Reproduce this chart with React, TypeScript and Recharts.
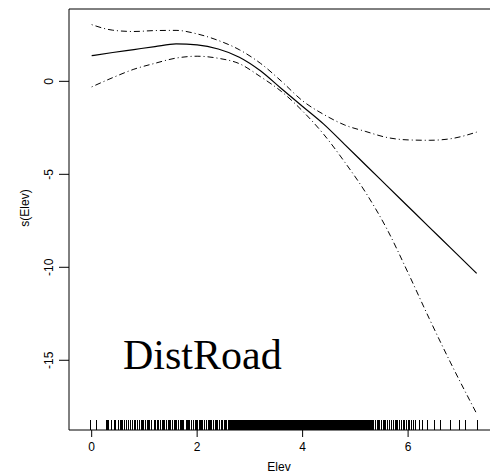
import React from 'react';
import { ComposedChart, Line, Scatter, XAxis, YAxis, ReferenceArea, Label } from 'recharts';

// gam smooth term s(Elev) with 2*se bands
const elev = [0, 0.4, 0.8, 1.2, 1.6, 2.0, 2.4, 2.8, 3.2, 3.6, 4.0, 4.4, 4.8, 5.2, 5.6, 6.0, 6.4, 6.8, 7.3];
const fit = [1.38, 1.55, 1.71, 1.87, 2.01, 1.96, 1.74, 1.3, 0.57, -0.4, -1.35, -2.3, -3.4, -4.51, -5.62, -6.73, -7.84, -8.94, -10.33];
const upper = [3.05, 2.75, 2.68, 2.73, 2.74, 2.55, 2.2, 1.7, 0.97, 0.0, -1.05, -1.78, -2.35, -2.7, -3.02, -3.15, -3.17, -3.09, -2.73];
const lower = [-0.3, 0.2, 0.65, 0.97, 1.25, 1.35, 1.24, 0.95, 0.25, -0.55, -1.6, -2.85, -4.35, -6.0, -7.95, -10.3, -12.75, -15.1, -17.87];

// rug of observed Elev values
const rug = [
  -0.03, 0.08,
  0.27, 0.29, 0.31, 0.36, 0.42, 0.44, 0.45, 0.5, 0.53, 0.55, 0.58, 0.62, 0.66, 0.68, 0.69, 0.72, 0.77, 0.81,
  0.83, 0.86, 0.9, 0.93, 0.95, 0.97, 1.02, 1.05, 1.07, 1.09, 1.12, 1.18, 1.21, 1.23, 1.25, 1.3, 1.33, 1.35,
  1.37, 1.4, 1.44, 1.46, 1.49, 1.52, 1.56, 1.58, 1.6, 1.63, 1.67, 1.7, 1.72, 1.74, 1.78, 1.81, 1.83, 1.85,
  1.88, 1.92, 1.95, 1.97, 1.99, 2.03, 2.06, 2.08, 2.1, 2.13, 2.17, 2.2, 2.22, 2.24, 2.27, 2.31, 2.34, 2.36,
  2.38, 2.41, 2.45, 2.48, 2.5, 2.52, 2.55, 2.58, 2.61, 2.64, 2.67, 2.7, 2.72, 2.75, 2.78, 2.8, 2.83, 2.86,
  2.88, 2.91, 2.94, 2.96, 2.99, 3.02, 3.04, 3.07, 3.1, 3.12, 3.15, 3.18, 3.2, 3.23, 3.26, 3.28, 3.31, 3.34,
  3.36, 3.39, 3.42, 3.44, 3.47, 3.5, 3.52, 3.55, 3.58, 3.6, 3.63, 3.66, 3.68, 3.71, 3.74, 3.76, 3.79, 3.82,
  3.84, 3.87, 3.9, 3.92, 3.95, 3.98, 4.0, 4.03, 4.06, 4.08, 4.11, 4.14, 4.16, 4.19, 4.22, 4.24, 4.27, 4.3,
  4.32, 4.35, 4.38, 4.4, 4.43, 4.46, 4.48, 4.51, 4.54, 4.56, 4.59, 4.62, 4.64, 4.67, 4.7, 4.72, 4.75, 4.78,
  4.8, 4.83, 4.86, 4.88, 4.91, 4.94, 4.97, 5.0, 5.03, 5.06, 5.09, 5.12, 5.15, 5.18, 5.21, 5.24, 5.27, 5.3,
  5.32, 5.34, 5.38, 5.41, 5.43, 5.45, 5.49, 5.52, 5.54, 5.56, 5.6, 5.64, 5.67, 5.71, 5.75, 5.77, 5.79, 5.83,
  5.86, 5.9, 5.93, 5.96, 5.99, 6.02, 6.06, 6.1, 6.14, 6.2, 6.26, 6.36, 6.49, 6.61, 6.8, 6.96, 7.08, 7.31,
  // the thick middle of the sample, where the rug is solid black
  2.625, 2.655, 2.685, 2.71, 2.735, 2.765, 2.79, 2.815, 2.845, 2.87, 2.895, 2.925, 2.95, 2.975, 3.005, 3.03,
  3.055, 3.085, 3.11, 3.135, 3.165, 3.19, 3.215, 3.245, 3.27, 3.295, 3.325, 3.35, 3.375, 3.405, 3.43, 3.455,
  3.485, 3.51, 3.535, 3.565, 3.59, 3.615, 3.645, 3.67, 3.695, 3.725, 3.75, 3.775, 3.805, 3.83, 3.855, 3.885,
  3.91, 3.935, 3.965, 3.99, 4.015, 4.045, 4.07, 4.095, 4.125, 4.15, 4.175, 4.205, 4.23, 4.255, 4.285, 4.31,
  4.335, 4.365, 4.39, 4.415, 4.445, 4.47, 4.495, 4.525, 4.55, 4.575, 4.605, 4.63, 4.655, 4.685, 4.71, 4.735,
  4.765, 4.79, 4.815, 4.845, 4.87, 4.895, 4.925, 4.955, 4.985, 5.015, 5.045, 5.075, 5.105, 5.135, 5.165, 5.195,
  5.225, 5.255, 5.285,
];

const xTicks = [0, 2, 4, 6];
const yTicks = [0, -5, -10, -15];
const xDomain = [-0.43, 7.61];
const yDomain = [-18.75, 3.89];

const curveData = elev.map((x, i) => ({ x, fit: fit[i], upper: upper[i], lower: lower[i] }));
const rugData = rug.map((x) => ({ x, y: yDomain[0] }));

const sans = 'Liberation Sans, Arial, sans-serif';
const dotdash = '1 3 6 3';

const XTick = (props: any) => (
  <text x={props.x} y={props.y + 12} textAnchor="middle" fontFamily={sans} fontSize={12} fill="#000">
    {props.payload.value}
  </text>
);

const YTick = (props: any) => {
  const x = props.x - 4;
  return (
    <text x={x} y={props.y} transform={`rotate(-90 ${x} ${props.y})`} textAnchor="middle" fontFamily={sans} fontSize={12} fill="#000">
      {props.payload.value}
    </text>
  );
};

const RugMark = (props: any) => (
  <line
    x1={Math.round(props.cx) + 0.5}
    x2={Math.round(props.cx) + 0.5}
    y1={props.cy}
    y2={props.cy - 10}
    stroke="#000"
    strokeWidth={1}
    shapeRendering="crispEdges"
  />
);

const App = () => {
  return (
    <div style={{ position: 'absolute', left: 0, top: 0, width: 490, height: 474, overflow: 'hidden', background: '#fff' }}>
      <ComposedChart width={493} height={474} data={curveData} margin={{ top: 9, right: 0, bottom: 0, left: 0 }}>
        <XAxis
          dataKey="x"
          type="number"
          domain={xDomain}
          ticks={xTicks}
          allowDataOverflow
          axisLine={false}
          tickSize={7}
          tickLine={{ stroke: '#000' }}
          tick={<XTick />}
          height={44}
        >
          <Label
            content={(p: any) => (
              <text x={p.viewBox.x + p.viewBox.width / 2 - 2} y={471} textAnchor="middle" fontFamily={sans} fontSize={12} fill="#000">
                Elev
              </text>
            )}
          />
        </XAxis>
        <YAxis
          type="number"
          domain={yDomain}
          ticks={yTicks}
          allowDataOverflow
          axisLine={false}
          tickSize={10}
          tickLine={{ stroke: '#000' }}
          tick={<YTick />}
          width={69}
        >
          <Label
            content={() => (
              <text x={29} y={208} transform="rotate(-90 29 208)" textAnchor="middle" fontFamily={sans} fontSize={12} fill="#000">
                s(Elev)
              </text>
            )}
          />
        </YAxis>
        <ReferenceArea x1={xDomain[0]} x2={xDomain[1]} y1={yDomain[0]} y2={yDomain[1]} fill="none" stroke="#000" strokeWidth={1} />
        <Line dataKey="upper" type="monotone" stroke="#000" strokeWidth={1} strokeDasharray={dotdash} dot={false} isAnimationActive={false} />
        <Line dataKey="lower" type="monotone" stroke="#000" strokeWidth={1} strokeDasharray={dotdash} dot={false} isAnimationActive={false} />
        <Line dataKey="fit" type="monotone" stroke="#000" strokeWidth={1.2} dot={false} isAnimationActive={false} />
        <Scatter data={rugData} dataKey="y" shape={<RugMark />} isAnimationActive={false} />
      </ComposedChart>
      <svg width={490} height={474} style={{ position: 'absolute', left: 0, top: 0, pointerEvents: 'none' }}>
        <text x={123} y={369} fontFamily="Liberation Serif, Times New Roman, serif" fontSize={42} fill="#000">
          DistRoad
        </text>
      </svg>
    </div>
  );
};

export default App;
